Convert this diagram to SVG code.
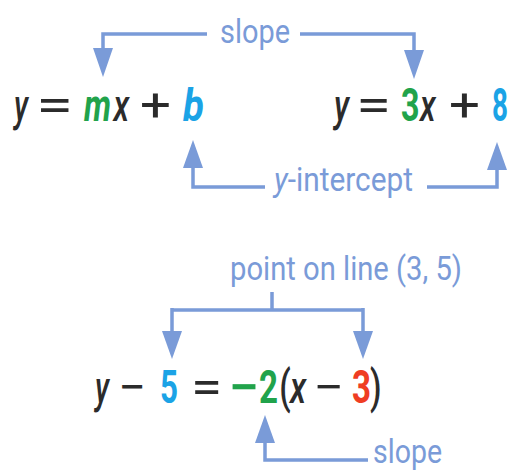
<svg xmlns="http://www.w3.org/2000/svg" width="522" height="473" viewBox="0 0 522 473">
<defs>
<style>
.c{fill:none;stroke:#7a9bd8;stroke-width:3.5}
.ah{fill:#7a9bd8}
.lb{font-family:Roboto,"Liberation Sans",sans-serif;font-size:33px;fill:#7a9bd8}
.eq{font-family:Roboto,"Liberation Sans",sans-serif;font-size:46px;fill:#2b2b2b;font-weight:500}
.op{font-family:Roboto,"Liberation Sans",sans-serif;font-size:46px;fill:#2b2b2b;font-weight:400}
.i{font-style:italic}
.k{fill:#2b2b2b;font-weight:500}
.g{fill:#21a34b;font-weight:bold}
.b{fill:#1ba3e6;font-weight:bold}
.r{fill:#ef3d23;font-weight:bold}
</style>
</defs>
<rect width="522" height="473" fill="#ffffff"/>
<g id="connectors">
<path class="c" d="M207,34 H103 V48"/>
<path class="ah" d="M93,48 L113,48 L103,77 Z"/>
<path class="c" d="M300,34 H414 V50"/>
<path class="ah" d="M404,50 L424,50 L414,79 Z"/>
<path class="c" d="M265,187 H193 V168"/>
<path class="ah" d="M183,168 L203,168 L193,140 Z"/>
<path class="c" d="M427,187 H497 V170"/>
<path class="ah" d="M487,170 L507,170 L497,142 Z"/>
<path class="c" d="M272,292 V310 M172,310 H363 M172,308 V332 M363,308 V332"/>
<path class="ah" d="M162,331 L182,331 L172,359 Z"/>
<path class="ah" d="M353,331 L373,331 L363,359 Z"/>
<path class="c" d="M368,460 H265 V443"/>
<path class="ah" d="M255,443 L275,443 L265,415 Z"/>
</g>
<g id="label-slope-top"><text class="lb" x="220" y="43" textLength="70" lengthAdjust="spacingAndGlyphs">slope</text></g>
<g id="label-yint"><text class="lb" x="274" y="191" textLength="139" lengthAdjust="spacingAndGlyphs"><tspan class="i">y</tspan>-intercept</text></g>
<g id="label-point"><text class="lb" x="230" y="280" textLength="232" lengthAdjust="spacingAndGlyphs">point on line (3, 5)</text></g>
<g id="label-slope-bottom"><text class="lb" x="373" y="463" textLength="69" lengthAdjust="spacingAndGlyphs">slope</text></g>
<g id="eq1">
<text class="eq i" x="14" y="121" textLength="14" lengthAdjust="spacingAndGlyphs">y</text>
<text class="op" x="36" y="121" textLength="37" lengthAdjust="spacingAndGlyphs">=</text>
<text class="eq i" transform="translate(84,121) scale(0.7,1)"><tspan class="g" x="0">m</tspan><tspan class="k" x="42">x</tspan></text>
<text class="op" x="140" y="121" textLength="31" lengthAdjust="spacingAndGlyphs">+</text>
<text class="eq i b" x="183" y="121" textLength="21" lengthAdjust="spacingAndGlyphs">b</text>
</g>
<g id="eq2">
<text class="eq i" x="334" y="121" textLength="15" lengthAdjust="spacingAndGlyphs">y</text>
<text class="op" x="356" y="121" textLength="35" lengthAdjust="spacingAndGlyphs">=</text>
<text class="eq" transform="translate(401,121) scale(0.7,1)"><tspan class="g" x="0">3</tspan><tspan class="k i" x="27">x</tspan></text>
<text class="op" x="449" y="121" textLength="31" lengthAdjust="spacingAndGlyphs">+</text>
<text class="eq b" x="492" y="121" textLength="16" lengthAdjust="spacingAndGlyphs">8</text>
</g>
<g id="eq3">
<text class="eq i" x="95" y="403" textLength="14" lengthAdjust="spacingAndGlyphs">y</text>
<text class="op" x="118" y="403" textLength="28" lengthAdjust="spacingAndGlyphs">−</text>
<text class="eq b" x="160" y="403" textLength="18" lengthAdjust="spacingAndGlyphs">5</text>
<text class="op" x="191" y="403" textLength="31" lengthAdjust="spacingAndGlyphs">=</text>
<text class="eq g" x="229" y="403" textLength="30" lengthAdjust="spacingAndGlyphs">−</text>
<text class="eq" transform="translate(259,403) scale(0.72,1)"><tspan class="g" x="0">2</tspan><tspan class="k" x="28">(</tspan><tspan class="k i" x="43">x</tspan></text>
<text class="op" x="313" y="403" textLength="31" lengthAdjust="spacingAndGlyphs">−</text>
<text class="eq" transform="translate(352,403) scale(0.72,1)"><tspan class="r" x="0">3</tspan><tspan class="k" x="25">)</tspan></text>
</g>
</svg>
